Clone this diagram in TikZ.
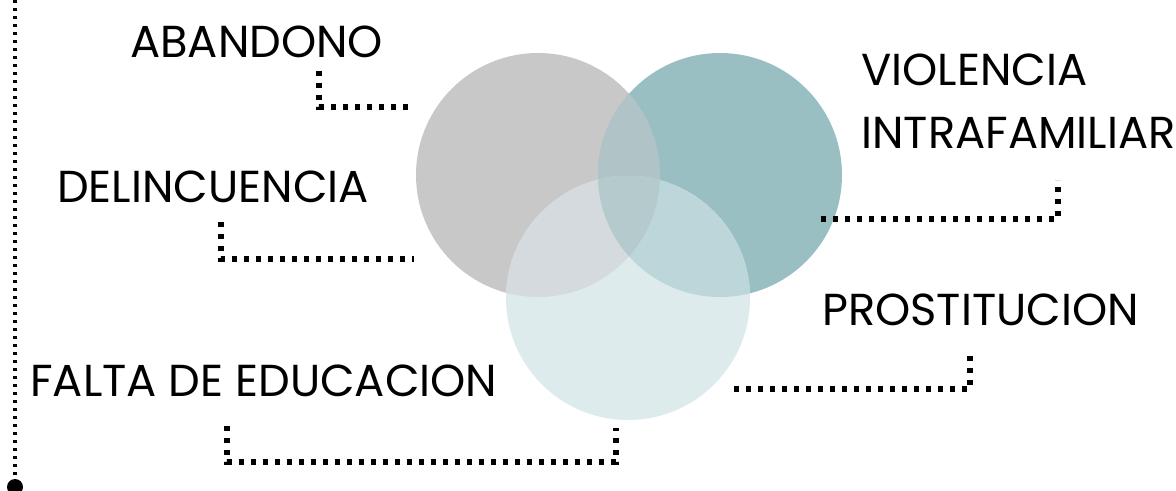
\documentclass[tikz,border=0pt]{standalone}
\usepackage{fontspec}
\setmainfont{Poppins}
\usetikzlibrary{positioning}
\definecolor{gris}{HTML}{C8C8C8}
\definecolor{verde}{HTML}{99BFC3}
\definecolor{celeste}{HTML}{DDEBEC}
\definecolor{grisverde}{HTML}{B0C4C7}
\definecolor{grisceleste}{HTML}{D4DADD}
\definecolor{verdeceleste}{HTML}{BDD6DA}
\definecolor{centro}{HTML}{B5CACD}

\begin{document}
\begin{tikzpicture}[
    % GLOBAL CFG
    x=0.75pt, y=-0.75pt,
    font=\fontsize{33.6}{40}\selectfont,
    % Styles
    etiqueta/.style={% For the labels
        anchor=base west,
        inner sep=0pt,
        },
    punteada/.style={% For the dotted connectors
        line width=4.1pt,
        dash pattern=on 4.1pt off 4.9pt,
        },
    lineafina/.style={% For the left line
        line width=2.6pt,
        dash pattern=on 2.6pt off 3.4pt,
        },
    ]
    \useasboundingbox (0,0) rectangle (1176,490);

    % Centers of the circles
    \coordinate (cGris) at (538,175);
    \coordinate (cVerde) at (720,175);
    \coordinate (cCeleste) at (628,298);

    % Draw the circles
    \fill [gris] (cGris) circle [radius=91.5pt];
    \fill [verde] (cVerde) circle [radius=91.5pt];
    \fill [celeste] (cCeleste) circle [radius=91.5pt];

    % Overlaps
    \begin{scope}
        \clip (cGris) circle [radius=91.5pt];
        \fill [grisverde] (cVerde) circle [radius=91.5pt];
        \fill [grisceleste] (cCeleste) circle [radius=91.5pt];
    \end{scope}
    \begin{scope}
        \clip (cVerde) circle [radius=91.5pt];
        \fill [verdeceleste] (cCeleste) circle [radius=91.5pt];
        \clip (cGris) circle [radius=91.5pt];
        \fill [centro] (cCeleste) circle [radius=91.5pt];
    \end{scope}

    % Draw the labels
    \node [etiqueta] (abandono) at (130,57) {ABANDONO};
    \node [etiqueta] (violencia) at (861,85) {VIOLENCIA};
    \node [etiqueta] (intrafamiliar) at (861,148) {INTRAFAMILIAR};
    \node [etiqueta] (delincuencia) at (57,202) {DELINCUENCIA};
    \node [etiqueta] (prostitucion) at (822,325) {PROSTITUCION};
    \node [etiqueta] (falta) at (30,396) {FALTA DE EDUCACION};

    % Ends of the connectors
    \coordinate (a1) at (319,71);
    \coordinate (a2) at (319,107);
    \coordinate (a3) at (410,107);
    \coordinate (d1) at (221,222);
    \coordinate (d2) at (221,259);
    \coordinate (d3) at (414,259);
    \coordinate (f1) at (227,426);
    \coordinate (f2) at (227,462);
    \coordinate (f3) at (616,462);
    \coordinate (f4) at (616,428);
    \coordinate (v1) at (821,219);
    \coordinate (v2) at (1058,219);
    \coordinate (v3) at (1058,180);
    \coordinate (p1) at (734,389);
    \coordinate (p2) at (970,389);
    \coordinate (p3) at (970,350);

    % Connectors
    \draw [punteada] (a1) -- (a2) -- (a3);
    \draw [punteada] (d1) -- (d2) -- (d3);
    \draw [punteada] (f1) -- (f2) -- (f3) -- (f4);
    \draw [punteada] (v1) -- (v2) -- (v3);
    \draw [punteada] (p1) -- (p2) -- (p3);

    % Left line
    \coordinate (lineaTop) at (15,0);
    \coordinate (lineaBase) at (15,487);
    \draw [lineafina] (lineaTop) -- (lineaBase);
    \fill (lineaBase) circle [radius=6pt];

\end{tikzpicture}
\end{document}
